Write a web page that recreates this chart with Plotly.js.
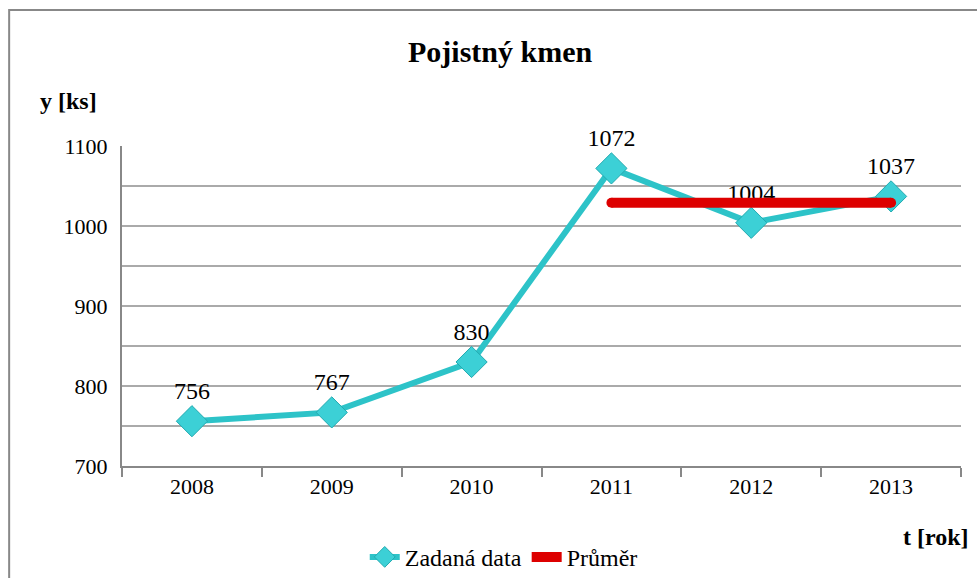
<!DOCTYPE html>
<html><head><meta charset="utf-8">
<script src="https://cdn.plot.ly/plotly-3.0.1.min.js"></script>
<style>body{margin:0;background:#fff}#c{width:977px;height:578px}</style>
</head><body><div id="c"></div>
<script>
var years = ['2008','2009','2010','2011','2012','2013'];
var values = [756, 767, 830, 1072, 1004, 1037];
var avgYears = ['2011','2013'];
var avgValues = [1029, 1029];
var yTicks = [700, 800, 900, 1000, 1100];

var traces = [
  {x: years, y: values, type:'scatter', mode:'lines+markers+text', name:'Zadaná data',
   text: values.map(String), textposition:'top center', cliponaxis:false,
   textfont:{family:'Liberation Serif', size:24, color:'#000'},
   line:{color:'#2DC3C8', width:6},
   marker:{symbol:'diamond', size:24, color:'#3CD0D6', line:{color:'#22AAB0', width:1}}},
  {x: avgYears, y: avgValues, type:'scatter', mode:'lines+markers', name:'Průměr', cliponaxis:false,
   line:{color:'#DD0000', width:10},
   marker:{symbol:'circle', size:10, color:'#DD0000'}}
];
var layout = {
  width:977, height:578,
  margin:{l:122, r:16, t:146, b:112, autoexpand:false},
  paper_bgcolor:'#fff', plot_bgcolor:'#fff',
  showlegend:true,
  legend:{orientation:'h', x:0.455, xanchor:'center', y:-0.215, yanchor:'top',
          font:{family:'Liberation Serif', size:24, color:'#000'}, traceorder:'normal'},
  xaxis:{type:'category', range:[-0.5,5.5], showgrid:false, showline:true,
         linecolor:'#888', linewidth:2, ticks:'outside', tickson:'boundaries',
         ticklen:9, tickcolor:'#888', tickwidth:2,
         tickfont:{family:'Liberation Serif', size:22, color:'#000'}, zeroline:false},
  yaxis:{range:[700,1100], tickvals:yTicks, showline:true, linecolor:'#888', linewidth:2,
         gridcolor:'#aaa', gridwidth:1.5, ticks:'',
         tickfont:{family:'Liberation Serif', size:22, color:'#000'},
         minor:{dtick:50, tick0:700, showgrid:true, gridcolor:'#aaa', gridwidth:1.5},
         zeroline:false, ticklabelstandoff:8},
  annotations:[
    {text:'<b>Pojistný kmen</b>', xref:'paper', yref:'paper', x:0.451, y:1.294, yanchor:'middle', showarrow:false,
     font:{family:'Liberation Serif', size:30, color:'#000'}},
    {text:'<b>y [ks]</b>', xref:'paper', yref:'paper', x:-0.1, xanchor:'left', y:1.14, yanchor:'middle', showarrow:false,
     font:{family:'Liberation Serif', size:24, color:'#000'}},
    {text:'<b>t [rok]</b>', xref:'paper', yref:'paper', x:1.012, xanchor:'right', y:-0.222, yanchor:'middle', showarrow:false,
     font:{family:'Liberation Serif', size:24, color:'#000'}}
  ],
  shapes:[
    {type:'rect', xref:'paper', yref:'paper', x0:-0.1345, x1:1.2, y0:-0.6, y1:1.425,
     line:{color:'#888', width:2}, layer:'below'}
  ]
};
Plotly.newPlot('c', traces, layout, {displayModeBar:false});
</script></body></html>
